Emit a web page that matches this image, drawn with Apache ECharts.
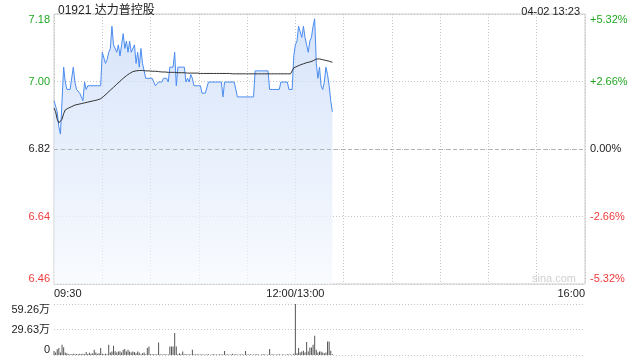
<!DOCTYPE html>
<html><head><meta charset="utf-8">
<script src="https://cdn.jsdelivr.net/npm/echarts@6/dist/echarts.min.js"></script>
<style>html,body{margin:0;padding:0;background:#fff}#c{width:640px;height:360px}</style>
</head><body><div id="c"></div>
<script>
const stockTitle = '01921 达力普控股';
const stamp = '04-02 13:23';
const preClose = 6.82;
// minute index from 09:30 (0) ... 12:00/13:00 (150) ... 16:00 (330)
const timeTickPos = [0, 150, 330];
const timeTickLabels = ['09:30', '12:00/13:00', '16:00'];
const pctTicks = [-5.32, -2.66, 0, 2.66, 5.32];
const volTicks = [0, 29.63, 59.26]; // 万

const prices = [
 6.95,6.95,6.92,6.88,6.86,6.95,7.04,7.00,6.98,6.98,
 6.98,6.98,7.04,7.00,6.98,6.98,6.97,6.96,6.95,7.00,
 6.98,6.99,6.99,6.99,6.99,6.99,6.99,6.99,6.99,6.99,
 7.08,7.08,7.05,7.06,7.08,7.09,7.15,7.10,7.10,7.08,
 7.10,7.07,7.10,7.13,7.09,7.11,7.08,7.11,7.08,7.08,
 7.10,7.05,7.08,7.04,7.09,7.05,7.03,7.01,7.01,7.01,
 7.01,7.01,7.00,6.99,6.99,7.00,7.00,7.00,7.01,7.01,
 7.01,7.00,7.04,7.04,7.04,7.08,6.99,7.04,7.04,7.04,
 7.04,7.04,7.00,7.01,7.00,7.02,7.01,6.99,6.99,6.99,
 6.99,6.99,6.97,6.97,6.97,6.97,7.00,7.00,7.00,7.00,
 7.00,7.00,7.00,7.00,7.00,6.96,7.00,7.00,7.00,7.00,
 7.00,7.00,7.00,7.00,6.96,6.96,6.96,6.96,6.96,6.96,
 6.96,6.96,6.96,6.96,6.96,7.03,7.03,7.03,7.03,7.03,
 7.03,7.03,7.03,7.03,6.98,6.98,6.98,6.98,6.98,6.98,
 6.98,7.00,7.00,7.00,7.00,7.00,6.98,6.98,6.98,7.07,
 7.10,7.11,7.15,7.15,7.12,7.15,7.12,7.10,7.08,7.11,
 7.12,7.15,7.17,7.05,7.01,7.04,6.99,6.98,7.00,7.04,
 7.02,6.99,6.95,6.92
];
const avgPrices = [
 6.930,6.920,6.900,6.890,6.888,6.900,6.915,6.925,6.928,6.930,
 6.932,6.934,6.936,6.938,6.939,6.940,6.941,6.942,6.943,6.944,
 6.945,6.946,6.947,6.948,6.949,6.950,6.951,6.952,6.953,6.955,
 6.958,6.962,6.966,6.970,6.974,6.978,6.982,6.986,6.990,6.994,
 6.998,7.002,7.006,7.010,7.014,7.017,7.020,7.023,7.026,7.028,
 7.029,7.030,7.031,7.031,7.031,7.031,7.031,7.030,7.030,7.030,
 7.030,7.029,7.029,7.029,7.028,7.028,7.028,7.027,7.027,7.027,
 7.026,7.026,7.026,7.026,7.026,7.026,7.025,7.025,7.025,7.025,
 7.025,7.025,7.024,7.024,7.024,7.024,7.024,7.024,7.024,7.024,
 7.024,7.023,7.023,7.023,7.023,7.023,7.023,7.023,7.023,7.023,
 7.023,7.023,7.023,7.023,7.023,7.023,7.023,7.023,7.023,7.023,
 7.023,7.022,7.022,7.022,7.022,7.022,7.022,7.022,7.022,7.022,
 7.022,7.022,7.022,7.022,7.022,7.022,7.022,7.022,7.022,7.022,
 7.022,7.022,7.022,7.022,7.022,7.022,7.022,7.022,7.022,7.022,
 7.022,7.022,7.022,7.022,7.022,7.022,7.022,7.022,7.022,7.038,
 7.041,7.042,7.044,7.046,7.047,7.049,7.050,7.052,7.053,7.054,
 7.055,7.057,7.060,7.062,7.062,7.062,7.061,7.060,7.059,7.058,
 7.057,7.056,7.054,7.053
];
const volumes = [ // 万股
 4.7,3,6.7,8,3,11.8,9,3,2,1,
 0.8,1,1.5,0.8,1.2,0.8,1.5,0.8,1.5,1,
 3.5,1.2,2.5,1.5,2,6,3,1.5,2,8,
 1.5,0.8,1.5,0.8,11.8,3,4,10.7,4.5,3,
 4,4.5,3,6,7,4,6,4,3,4,
 3.5,2,4,3,1,2,3,1,8,10,
 0.8,0.8,0.8,0.5,0.8,14.6,0.8,0.5,0.5,0.8,
 0.5,0.5,10,10,10,25.7,10,0.8,2,1,
 4,1,0.8,0.5,0.8,0.5,6,0.8,0.5,0.8,
 0.5,0.5,0.8,0.4,0.6,0.5,0.8,0.4,0.5,1,
 0.5,0.6,0.4,0.8,0.5,0.6,4.7,0.5,0.8,0.4,
 0.6,1.5,0.5,0.8,0.4,0.6,0.5,0.8,0.4,4.7,
 0.5,0.6,0.8,0.4,0.5,0.6,1,0.5,0.4,0.6,
 0.8,0.5,0.4,0.6,7,0.5,0.8,0.4,0.6,0.5,
 0.8,0.4,0.5,0.6,0.4,0.8,0.5,0.6,0.4,1.5,
 59.26,2,8,3,4,5,3,15,4,8.7,
 8.7,12,22.5,6,3,4,4,3,2,3,
 15.8,15.8,5,1
];

const FONT = '"Liberation Sans", Arial, "Noto Sans CJK SC", sans-serif';
const GREEN = '#22a722', RED = '#ee3b3b', BLACK = '#222';
const toPct = p => (p / preClose - 1) * 100;
const isZero = v => Math.abs(v) < 1e-9;
const cls = v => isZero(v) ? 'k' : (v > 0 ? 'g' : 'r');
const rich = {
  g: {color: GREEN, fontSize: 11, fontFamily: FONT},
  r: {color: RED, fontSize: 11, fontFamily: FONT},
  k: {color: BLACK, fontSize: 11, fontFamily: FONT}
};
const dotted = {type: [1, 2], color: '#c4c4c4', width: 1};

const chart = echarts.init(document.getElementById('c'), null, {renderer: 'canvas'});
chart.setOption({
  animation: false,
  backgroundColor: '#fff',
  textStyle: {fontFamily: FONT},
  title: [
    {text: stockTitle, left: 53, top: 0, textStyle: {fontSize: 12, fontWeight: 'normal', color: '#222', fontFamily: FONT}},
    {text: stamp, right: 55, top: 1, textStyle: {fontSize: 11, fontWeight: 'normal', color: '#222', fontFamily: FONT}}
  ],
  graphic: [{type: 'text', left: 532, top: 273, silent: true,
    style: {text: 'sina.com', fill: '#d0d0d0', font: '11px ' + FONT}}],
  grid: [
    {left: 54, right: 55, top: 14, height: 270, show: true, borderColor: '#ccc', borderWidth: 1, backgroundColor: 'transparent'},
    {left: 54, right: 55, top: 304, height: 51}
  ],
  xAxis: [
    {type: 'value', gridIndex: 0, min: 0, max: 330, interval: 30,
     axisLine: {show: false}, axisTick: {show: false},
     splitLine: {show: true, lineStyle: dotted},
     axisLabel: {margin: 4, fontSize: 11, color: BLACK, fontFamily: FONT,
       showMinLabel: true, showMaxLabel: true,
       alignMinLabel: 'left', alignMaxLabel: 'right',
       formatter: v => { const k = timeTickPos.indexOf(Math.round(v)); return k >= 0 ? timeTickLabels[k] : ''; }}},
    {type: 'value', gridIndex: 1, min: 0, max: 330, interval: 30,
     axisLine: {show: false}, axisTick: {show: false}, axisLabel: {show: false}, splitLine: {show: false}}
  ],
  yAxis: [
    {type: 'value', gridIndex: 0, position: 'left', min: pctTicks[0], max: pctTicks[4], interval: pctTicks[1] - pctTicks[0],
     axisLine: {show: false}, axisTick: {show: false},
     splitLine: {show: true, lineStyle: dotted},
     axisLabel: {margin: 4, verticalAlignMinLabel: 'bottom', verticalAlignMaxLabel: 'top', rich,
       formatter: v => '{' + cls(v) + '|' + (preClose * (1 + v / 100)).toFixed(2) + '}'}},
    {type: 'value', gridIndex: 0, position: 'right', min: pctTicks[0], max: pctTicks[4], interval: pctTicks[1] - pctTicks[0],
     axisLine: {show: false}, axisTick: {show: false}, splitLine: {show: false},
     axisLabel: {margin: 5, verticalAlignMinLabel: 'bottom', verticalAlignMaxLabel: 'top', rich,
       formatter: v => { const z = isZero(v) ? 0 : v; return '{' + cls(z) + '|' + (z > 0 ? '+' : '') + z.toFixed(2) + '%}'; }}},
    {type: 'value', gridIndex: 1, min: volTicks[0], max: volTicks[2], interval: volTicks[1],
     axisLine: {show: false}, axisTick: {show: false},
     splitLine: {show: true, lineStyle: dotted},
     axisLabel: {margin: 4, fontSize: 11, color: BLACK, fontFamily: FONT,
       verticalAlignMinLabel: 'bottom', verticalAlignMaxLabel: 'top',
       formatter: v => v === 0 ? '0' : v.toFixed(2) + '万'}}
  ],
  series: [
    {type: 'line', xAxisIndex: 0, yAxisIndex: 0, symbol: 'none', z: 2,
     data: prices.map((p, i) => [i, toPct(p)]),
     lineStyle: {color: '#4a8cf0', width: 1},
     areaStyle: {origin: 'start', color: new echarts.graphic.LinearGradient(0, 0, 0, 1, [
       {offset: 0, color: '#c6d9f8'}, {offset: 1, color: '#f6f9fe'}])},
     markLine: {silent: true, symbol: 'none', label: {show: false},
       lineStyle: {type: [4, 3], color: '#b4b4b4', width: 1},
       data: [{yAxis: 0}]}},
    {type: 'line', xAxisIndex: 0, yAxisIndex: 0, symbol: 'none', z: 3,
     data: avgPrices.map((p, i) => [i, toPct(p)]),
     lineStyle: {color: '#333', width: 1}},
    {type: 'bar', xAxisIndex: 1, yAxisIndex: 2, barWidth: 1,
     data: volumes.map((v, i) => [i, v]),
     itemStyle: {color: '#555'}}
  ]
});
</script></body></html>
